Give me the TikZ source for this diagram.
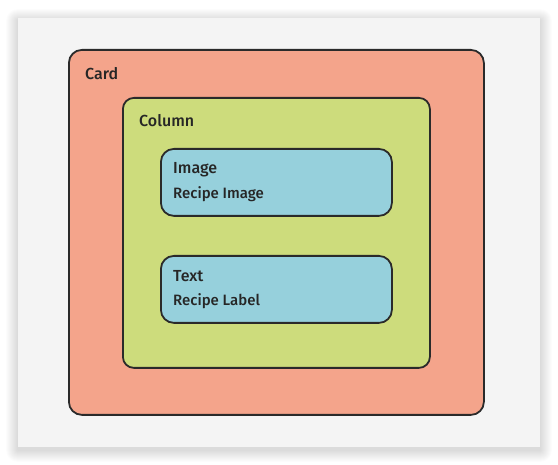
\documentclass[tikz,border=0pt]{standalone}
\usepackage{fontspec}
\setmainfont{Fira Sans}
\newfontfamily\medfont{Fira Sans Medium}
\usepackage{tikz}
\usetikzlibrary{positioning}
\definecolor{panelgray}{HTML}{F4F4F4}
\definecolor{cardsalmon}{HTML}{F4A48B}
\definecolor{colgreen}{HTML}{CDDC7C}
\definecolor{itemblue}{HTML}{96D0DC}
\definecolor{edgedark}{HTML}{2A2A2A}
\definecolor{labeldark}{HTML}{262626}
\tikzset{
  layoutbox/.style={rectangle,rounded corners=#1,draw=edgedark,line width=1.8pt,
    anchor=north west,inner sep=0pt},
  layoutbox/.default={12pt},
  boxtitle/.style={anchor=base west,inner sep=0pt,font=\medfont\fontsize{16}{18}\selectfont,text=labeldark},
  boxsub/.style={anchor=base west,inner sep=0pt,font=\medfont\fontsize{15}{17}\selectfont,text=labeldark},
}

\begin{document}
\begin{tikzpicture}[x=1pt,y=-1pt]
  \useasboundingbox (0,0) rectangle (558,465);
  % panel with soft shadow
  \foreach \s in {1,...,12}
    \fill[black,opacity=0.012,rounded corners=\s pt] (18-\s,18-\s+3) rectangle (540+\s,447+\s+3);
  \fill[panelgray] (18,18) rectangle (540,447);
  % nested boxes
  \node[layoutbox=13pt,fill=cardsalmon,minimum width=415pt,minimum height=365pt] (card) at (68,49) {};
  \node[layoutbox=11pt,fill=colgreen,minimum width=307pt,minimum height=270pt] (column) at (122,97) {};
  \node[layoutbox=13pt,fill=itemblue,minimum width=231pt,minimum height=67pt] (image) at (160,148) {};
  \node[layoutbox=13pt,fill=itemblue,minimum width=231pt,minimum height=67pt] (text) at (160,255) {};
  % labels
  \node[boxtitle] (cardlbl) at (85,80) {Card};
  \node[boxtitle] (columnlbl) at (139,127) {Column};
  \node[boxtitle] (imagelbl) at (173,174) {Image};
  \node[boxsub] (imagesub) at (173,199) {Recipe Image};
  \node[boxtitle] (textlbl) at (173,281.5) {Text};
  \node[boxsub] (textsub) at (173,306) {Recipe Label};
\end{tikzpicture}
\end{document}
